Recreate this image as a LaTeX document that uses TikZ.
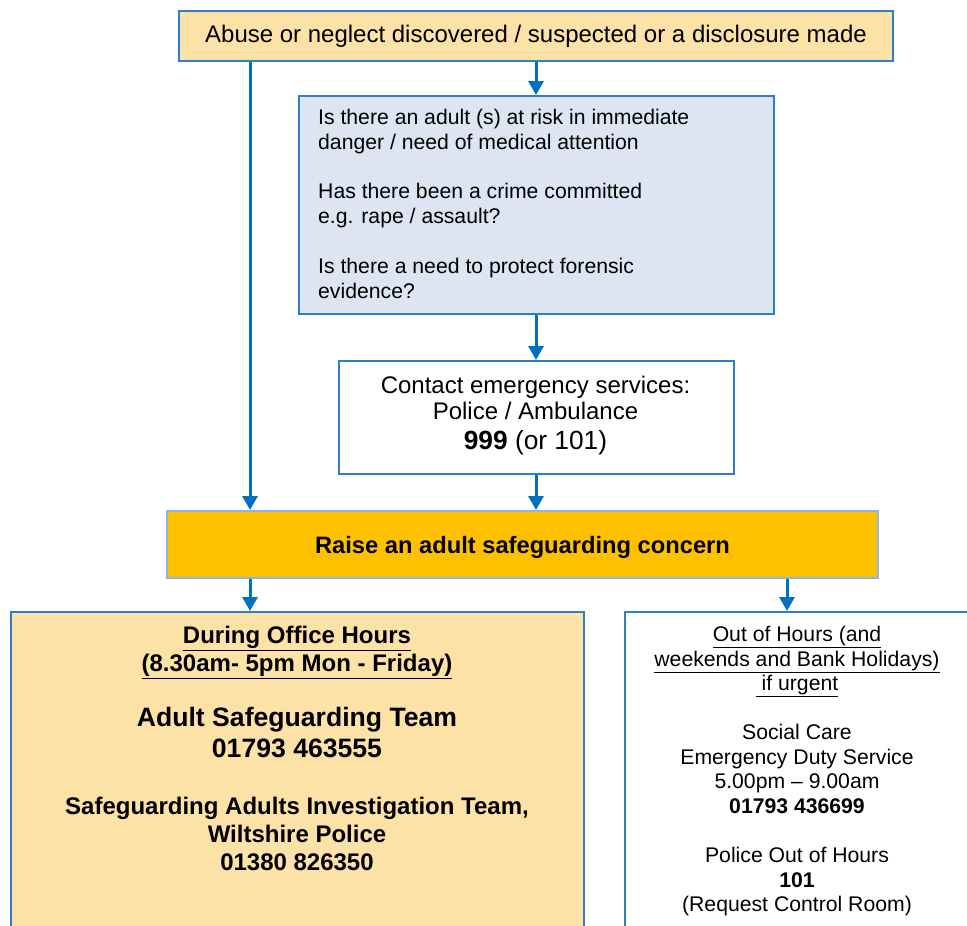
\documentclass[tikz,border=0pt]{standalone}
\usepackage{fontspec}
\setmainfont{Liberation Sans}
\usetikzlibrary{arrows.meta}
\definecolor{arrowblue}{HTML}{0070C0}
\definecolor{boxblue}{HTML}{2F7DCB}
\definecolor{lightborder}{HTML}{8DB4E2}
\definecolor{peach}{HTML}{FDE2A8}
\definecolor{paleblue}{HTML}{DCE6F2}
\definecolor{amber}{HTML}{FFC000}
\tikzset{
  box/.style={draw=boxblue, line width=2pt, rectangle, inner sep=0pt, anchor=north west},
  arr/.style={draw=arrowblue, line width=3pt, -{Triangle[width=15pt,length=14pt]}},
  txt/.style={inner sep=0pt, text=black}
}
\begin{document}
\begin{tikzpicture}[x=1pt,y=-1pt]
\useasboundingbox (0,0) rectangle (967,926);
\clip (0,0) rectangle (967,926);
\fill[white] (0,0) rectangle (967,926);

% boxes
\node[box, fill=peach, minimum width=714pt, minimum height=50pt, font=\fontsize{24}{28}\selectfont] (top) at (178,10) {Abuse or neglect discovered / suspected or a disclosure made};
\node[box, fill=paleblue, minimum width=475pt, minimum height=218pt] (blue) at (298,95) {};
\node[box, fill=white, minimum width=395pt, minimum height=113pt] (white) at (338,360) {};
\node[box, draw=lightborder, fill=amber, minimum width=711pt, minimum height=67pt] (raise) at (166,510) {};
\node[box, fill=peach, minimum width=573pt, minimum height=340pt] (office) at (10,611) {};
\node[box, fill=white, minimum width=400pt, minimum height=340pt] (ooh) at (624,611) {};

% texts
\node[txt, font=\bfseries\fontsize{23.7}{28}\selectfont] (raisetext) at ([yshift=-3pt]raise.center) {Raise an adult safeguarding concern};

\node[txt, anchor=north west, align=left, font=\fontsize{21.2}{25.4}\selectfont] (bluetext) at (318,109)
 {Is there an adult (s) at risk in immediate\\ danger / need of medical attention\\[23pt]
  Has there been a crime committed\\ e.g. rape / assault?\\[24pt]
  Is there a need to protect forensic\\ evidence?};

\node[txt, anchor=north, align=center, font=\fontsize{24}{26}\selectfont] (whitetext) at (535.5,376)
 {Contact emergency services:\\ Police / Ambulance\\[4pt]
  \fontsize{26.3}{30}\selectfont\textbf{999} (or 101)};

\node[txt, anchor=north, align=center, font=\bfseries\fontsize{24}{28}\selectfont] (officetext) at (297,626)
 {\underline{During Office Hours}\\ \underline{(8.30am- 5pm Mon - Friday)}\\[27pt]
  \fontsize{26.6}{31}\selectfont Adult Safeguarding Team\\[3pt]
  \fontsize{26.6}{31}\selectfont 01793 463555\\[29pt]
  Safeguarding Adults Investigation Team,\\ Wiltshire Police\\ 01380 826350};

\node[txt, anchor=north, align=center, font=\fontsize{21.2}{24.6}\selectfont] (oohtext) at (797,626)
 {\underline{Out of Hours (and}\\ \underline{weekends and Bank Holidays)}\\ \underline{\ if urgent}\\[24.4pt]
  Social Care\\ Emergency Duty Service\\ 5.00pm – 9.00am\\ \textbf{01793 436699}\\[24.4pt]
  Police Out of Hours\\ \textbf{101}\\ (Request Control Room)};

% connectors
\coordinate (lx) at (250,0);
\coordinate (rx) at (787,0);
\draw[arr] (top.south -| lx) -- (raise.north -| lx);
\draw[arr] (top.south) -- (top.south |- blue.north);
\draw[arr] (top.south |- blue.south) -- (top.south |- white.north);
\draw[arr] (top.south |- white.south) -- (top.south |- raise.north);
\draw[arr] (raise.south -| lx) -- (office.north -| lx);
\draw[arr] (raise.south -| rx) -- (ooh.north -| rx);
\end{tikzpicture}
\end{document}
